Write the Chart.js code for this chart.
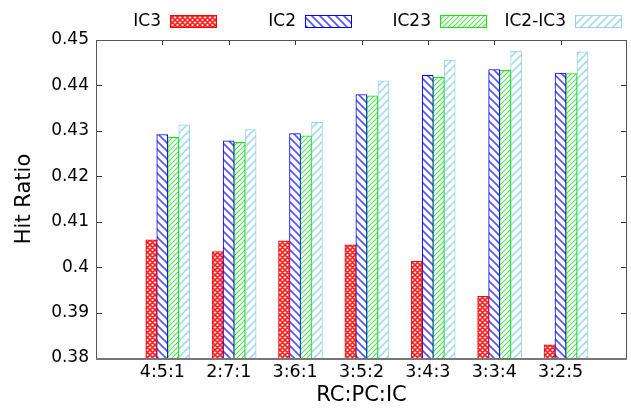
<!DOCTYPE html>
<html>
<head>
<meta charset="utf-8">
<script src="https://cdn.jsdelivr.net/npm/chart.js@4.4.1/dist/chart.umd.min.js"></script>
<style>
    html, body { margin: 0; padding: 0; background: #fff; }
    #wrap { width: 631px; height: 408px; }
</style>
</head>
<body>
<div id="wrap"><canvas id="chart"></canvas></div>
<script>
const categories = ['4:5:1', '2:7:1', '3:6:1', '3:5:2', '3:4:3', '3:3:4', '3:2:5'];
const ic3 = [0.4060, 0.4034, 0.4058, 0.4049, 0.4013, 0.3936, 0.3829];
const ic2 = [0.4292, 0.4278, 0.4294, 0.4380, 0.4422, 0.4435, 0.4427];
const ic23 = [0.4286, 0.4275, 0.4289, 0.4377, 0.4418, 0.4433, 0.4426];
const ic2ic3 = [0.4313, 0.4303, 0.4319, 0.4410, 0.4456, 0.4475, 0.4474];
const yTicks = [0.38, 0.39, 0.40, 0.41, 0.42, 0.43, 0.44, 0.45];

const FONT = 'DejaVu Sans';
// gnuplot puts the tick a bit left of the cluster centre
const labelShift = 0.081;

function makePattern(kind, color, size, width) {
    const c = document.createElement('canvas');
    c.width = size;
    c.height = size;
    const g = c.getContext('2d');
    g.fillStyle = '#fff';
    g.fillRect(0, 0, size, size);
    g.strokeStyle = color;
    g.lineWidth = width;
    g.beginPath();
    if (kind === 'cross' || kind === 'back') {
        g.moveTo(-1, -1); g.lineTo(size + 1, size + 1);
        g.moveTo(-1, size - 1); g.lineTo(1, size + 1);
        g.moveTo(size - 1, -1); g.lineTo(size + 1, 1);
    }
    if (kind === 'cross' || kind === 'fwd') {
        g.moveTo(-1, size + 1); g.lineTo(size + 1, -1);
        g.moveTo(-1, 1); g.lineTo(1, -1);
        g.moveTo(size - 1, size + 1); g.lineTo(size + 1, size - 1);
    }
    g.stroke();
    return g.createPattern(c, 'repeat');
}

const seriesStyle = [
    {label: 'IC3', data: ic3, border: '#ff0000', fill: makePattern('cross', '#ff2020', 5, 1.7)},
    {label: 'IC2', data: ic2, border: '#0000ff', fill: makePattern('back', '#5555ff', 8, 1.6)},
    {label: 'IC23', data: ic23, border: '#00ee00', fill: makePattern('fwd', '#55e055', 5, 1.1)},
    {label: 'IC2-IC3', data: ic2ic3, border: '#99d4ee', fill: makePattern('fwd', '#a6daf2', 8, 1.6)}
];

const frame = {
    id: 'frame',
    beforeDatasetsDraw(chart) {
        const {ctx, chartArea: a} = chart;
        const xs = chart.scales.x;
        ctx.save();
        ctx.strokeStyle = '#333';
        ctx.lineWidth = 1;
        ctx.beginPath();
        xs.ticks.forEach(t => {
            const px = Math.round(xs.getPixelForValue(t.value)) + 0.5;
            ctx.moveTo(px, a.bottom);
            ctx.lineTo(px, a.bottom - 6);
        });
        ctx.stroke();
        ctx.restore();
    },
    afterDraw(chart) {
        const {ctx, chartArea: a} = chart;
        const xs = chart.scales.x;
        const ys = chart.scales.y;
        ctx.save();
        ctx.strokeStyle = '#333';
        ctx.lineWidth = 1;
        ctx.beginPath();
        yTicks.forEach(v => {
            const py = Math.round(ys.getPixelForValue(v)) + 0.5;
            ctx.moveTo(a.left, py); ctx.lineTo(a.left + 6, py);
            ctx.moveTo(a.right, py); ctx.lineTo(a.right - 6, py);
        });
        xs.ticks.forEach(t => {
            const px = Math.round(xs.getPixelForValue(t.value)) + 0.5;
            ctx.moveTo(px, a.top); ctx.lineTo(px, a.top + 5);
        });
        ctx.stroke();
        ctx.strokeStyle = '#555';
        ctx.strokeRect(Math.round(a.left) + 0.5, Math.round(a.top) + 0.5,
            Math.round(a.right - a.left) - 1, Math.round(a.bottom - a.top));
        ctx.strokeStyle = '#777';
        ctx.lineWidth = 2;
        ctx.beginPath();
        ctx.moveTo(a.left, Math.round(a.bottom) + 1);
        ctx.lineTo(a.right, Math.round(a.bottom) + 1);
        ctx.stroke();

        // gnuplot style key: text right-aligned, sample to the right
        ctx.font = '17px ' + FONT;
        ctx.textAlign = 'right';
        ctx.textBaseline = 'middle';
        seriesStyle.forEach((s, i) => {
            const sx = 170 + i * 135;
            ctx.fillStyle = '#000';
            ctx.fillText(s.label, sx - 9, 22);
            ctx.fillStyle = s.fill;
            ctx.fillRect(sx, 15, 47, 13);
            ctx.strokeStyle = s.border;
            ctx.lineWidth = 1;
            ctx.strokeRect(sx + 0.5, 15.5, 46, 12);
        });
        ctx.restore();
    }
};

new Chart(document.getElementById('chart'), {
    type: 'bar',
    data: {
        datasets: seriesStyle.map(s => ({
            label: s.label,
            data: s.data.map((v, i) => ({x: i + 1, y: v})),
            backgroundColor: s.fill,
            borderColor: s.border,
            borderWidth: 1,
            barThickness: 11
        }))
    },
    options: {
        responsive: true,
        maintainAspectRatio: false,
        animation: false,
        layout: {padding: {top: 40, right: 4, left: 0, bottom: 0}},
        plugins: {legend: {display: false}, tooltip: {enabled: false}},
        scales: {
            x: {
                type: 'linear',
                offset: false,
                min: -labelShift,
                max: 8 - labelShift,
                grid: {display: false, drawTicks: false},
                border: {display: false},
                afterBuildTicks: scale => {
                    scale.ticks = categories.map((c, i) => ({value: i + 1 - labelShift}));
                },
                afterFit: scale => { scale.height = 50; },
                ticks: {
                    color: '#000',
                    font: {family: FONT, size: 17.5},
                    padding: 4,
                    maxRotation: 0,
                    autoSkip: false,
                    callback: (v, i) => categories[i]
                },
                title: {
                    display: true,
                    text: 'RC:PC:IC',
                    color: '#000',
                    font: {family: FONT, size: 21},
                    padding: {top: 0, bottom: 0}
                }
            },
            y: {
                min: 0.38,
                max: 0.45,
                grid: {display: false, drawTicks: false},
                border: {display: false},
                afterBuildTicks: scale => {
                    scale.ticks = yTicks.map(v => ({value: v}));
                },
                afterFit: scale => { scale.width = 96; },
                ticks: {
                    color: '#000',
                    font: {family: FONT, size: 17},
                    padding: 7,
                    callback: v => String(Number(v.toFixed(2)))
                },
                title: {
                    display: true,
                    text: 'Hit Ratio',
                    color: '#000',
                    font: {family: FONT, size: 21},
                    padding: {top: 12, bottom: 0}
                }
            }
        }
    },
    plugins: [frame]
});
</script>
</body>
</html>
